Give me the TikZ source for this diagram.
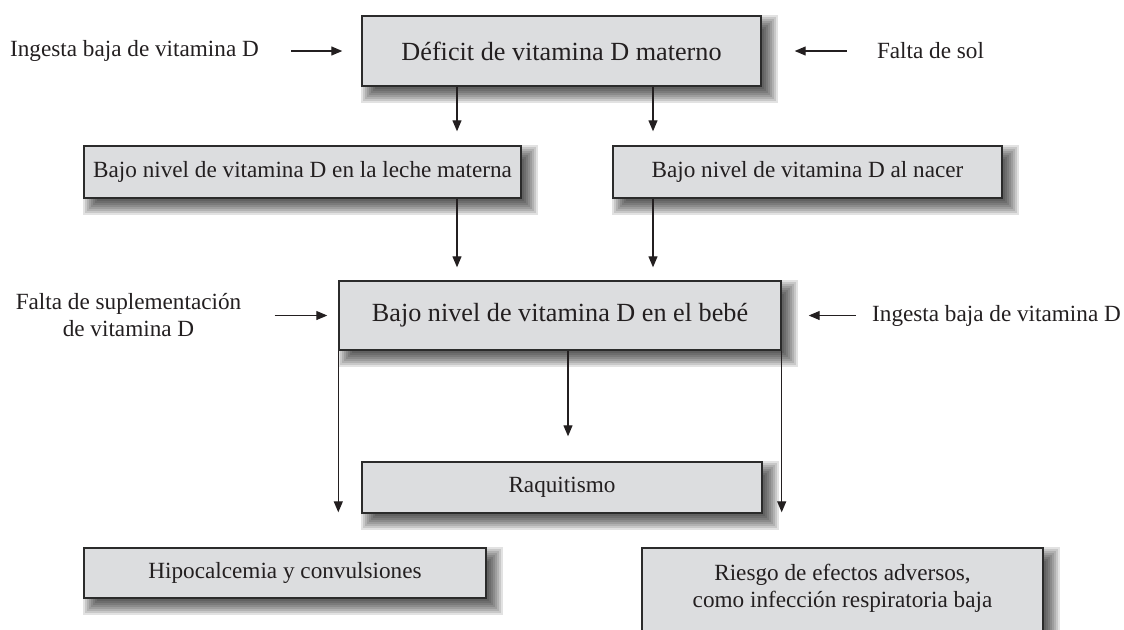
\documentclass[tikz,border=0pt]{standalone}
\usepackage{fontspec}
\setmainfont{Liberation Serif}
\usetikzlibrary{arrows.meta,calc,backgrounds}
\definecolor{boxfill}{HTML}{DCDDDF}
\definecolor{edgec}{HTML}{2B2B2B}
\definecolor{ink}{HTML}{231F20}
\tikzset{
  flowbox/.style={draw=edgec, fill=boxfill, line width=0.7pt, inner sep=0pt, align=center, text=ink},
  bigtxt/.style={font=\fontsize{13.1}{15}\selectfont},
  smalltxt/.style={font=\fontsize{11.6}{13.5}\selectfont},
  lbl/.style={inner sep=0pt, align=center, text=ink, font=\fontsize{11.6}{13.5}\selectfont},
  arr/.style={draw=ink, line width=0.6pt, -{Triangle[length=5.5pt,width=4.5pt]}},
}
\begin{document}
\begin{tikzpicture}[x=0.5pt,y=-0.5pt]
\useasboundingbox (0,0) rectangle (1124,629);
% boxes
\node[flowbox,bigtxt,minimum width=199.5pt,minimum height=35pt] (top) at (561.5,51) {Déficit de vitamina D materno};
\node[flowbox,smalltxt,minimum width=218.5pt,minimum height=26pt] (leche) at (302.5,172) {Bajo nivel de vitamina D en la leche materna};
\node[flowbox,smalltxt,minimum width=194.5pt,minimum height=26pt] (nacer) at (807.5,172) {Bajo nivel de vitamina D al nacer};
\node[flowbox,bigtxt,minimum width=221pt,minimum height=34.5pt] (bebe) at (560,315.5) {Bajo nivel de vitamina D en el bebé};
\node[flowbox,smalltxt,minimum width=200pt,minimum height=25.5pt] (raq) at (562,487.5) {Raquitismo};
\node[flowbox,smalltxt,minimum width=201pt,minimum height=25pt] (hipo) at (285,573) {Hipocalcemia y convulsiones};
\node[flowbox,minimum width=200.5pt,minimum height=60pt] (riesgo) at (842.5,608) {};
\node[lbl] (riesgotxt) at (842.5,588.5) {Riesgo de efectos adversos,\\como infección respiratoria baja};
% labels
\node[lbl] (ing1) at (134.5,51) {Ingesta baja de vitamina D};
\node[lbl] (sol) at (930.5,51) {Falta de sol};
\node[lbl] (sup) at (128.5,315.5) {Falta de suplementación\\de vitamina D};
\node[lbl] (ing2) at (996.5,315.5) {Ingesta baja de vitamina D};
% shadows
\begin{pgfonlayer}{background}
\foreach \n in {top,leche,nacer,bebe,raq,hipo,riesgo}{
  \foreach \k in {0,...,8}{
    \pgfmathsetmacro\ee{-8+2*\k}
    \fill[black,opacity=0.115] ($(\n.south west)+({8-\ee},{8+\ee})$) rectangle ($(\n.north east)+({8+\ee},{8-\ee})$);
  }
}
\end{pgfonlayer}
% connectors
\draw[arr, shorten <=16pt, shorten >=9.5pt] (ing1.east) -- (top.west);
\draw[arr, shorten <=15pt, shorten >=16.5pt] (sol.west) -- (top.east);
\draw[arr, shorten >=7pt] ([xshift=-52.25pt]top.south) -- ([xshift=-52.25pt]top.south |- leche.north);
\draw[arr, shorten >=7pt] ([xshift=45.75pt]top.south) -- ([xshift=45.75pt]top.south |- nacer.north);
\draw[arr, shorten >=6.5pt] ([xshift=77.25pt]leche.south) -- ([xshift=77.25pt]leche.south |- bebe.north);
\draw[arr, shorten >=6.5pt] ([xshift=-77.25pt]nacer.south) -- ([xshift=-77.25pt]nacer.south |- bebe.north);
\draw[arr, shorten <=16.5pt, shorten >=5.5pt] (sup.east) -- (bebe.west);
\draw[arr, shorten <=8pt, shorten >=13.5pt] (ing2.west) -- (bebe.east);
\draw[arr, shorten >=12.5pt] ([xshift=4pt]bebe.south) -- ([xshift=4pt]bebe.south |- raq.north);
\draw[arr, shorten >=17.5pt] (bebe.south west) -- (bebe.south west |- hipo.north);
\draw[arr, shorten >=17.5pt] (bebe.south east) -- (bebe.south east |- riesgo.north);
\end{tikzpicture}
\end{document}
